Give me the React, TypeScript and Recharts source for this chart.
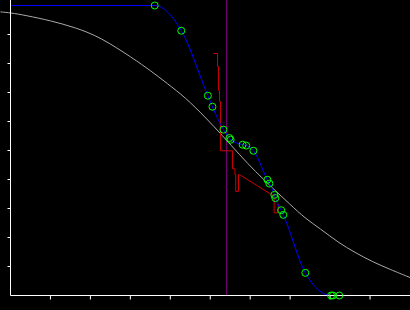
import { ComposedChart, Line, Scatter, XAxis, YAxis, ReferenceLine } from "recharts";

// measured points (green circles) and the smooth curve through them
const pointX = [3.61, 4.275, 4.94, 5.055, 5.33, 5.48, 5.51, 5.81, 5.9, 6.08, 6.43, 6.48, 6.605, 6.63, 6.775, 6.83, 7.38, 8.025, 8.07, 8.23];
const pointY = [1.0, 0.913, 0.689, 0.651, 0.572, 0.543, 0.537, 0.52, 0.517, 0.499, 0.399, 0.386, 0.347, 0.336, 0.294, 0.278, 0.078, 0, 0, 0];

// wide reference curve (grey)
const refX = [-0.25, 0, 0.375, 1.0, 1.625, 2.25, 3.075, 3.5, 3.925, 4.375, 4.875, 5.3, 5.75, 6.125, 6.55, 7.0, 7.375, 7.75, 8.2, 8.625, 9.05, 9.5, 10.0];
const refY = [0.978, 0.975, 0.966, 0.948, 0.924, 0.891, 0.817, 0.776, 0.731, 0.683, 0.615, 0.552, 0.483, 0.428, 0.372, 0.314, 0.266, 0.231, 0.183, 0.148, 0.117, 0.09, 0.062];

// step trace (red)
const stepX = [5.075, 5.1825, 5.1825, 5.2075, 5.2075, 5.2325, 5.2325, 5.2575, 5.2575, 5.5575, 5.5575, 5.6175, 5.6175, 5.6375, 5.6375, 5.7075, 5.7075, 5.7325, 6.5425, 6.6, 6.6, 6.7, 6.7];
const stepY = [0.8345, 0.8345, 0.79, 0.79, 0.707, 0.707, 0.669, 0.669, 0.499, 0.499, 0.437, 0.437, 0.417, 0.417, 0.359, 0.359, 0.417, 0.417, 0.347, 0.347, 0.285, 0.285, 0.316];

const cutX = 5.41;
const xTicks = [1, 2, 3, 4, 5, 6, 7, 8, 9];
const yTicks = [0.1, 0.2, 0.3, 0.4, 0.5, 0.6, 0.7, 0.8, 0.9];

const zip = (xs: number[], ys: number[]) => xs.map((x, i) => ({ x, y: ys[i] }));

const points = zip(pointX, pointY);
const fit = [{ x: 0, y: 1 }, ...points, { x: 10, y: 0 }];
const ref = zip(refX, refY);
const step = zip(stepX, stepY);

const Ring = (props: any) => (
  <circle cx={props.cx} cy={props.cy} r={3.5} fill="none" stroke="#00ff00" strokeWidth={1} />
);

// tick marks only, no labels
const NoLabel = () => <g />;

export default function App() {
  return (
    <div style={{ width: 410, height: 310, background: "#000" }}>
      <style>{"body{margin:0;background:#000}.no-clip,.no-clip *{clip-path:none !important}"}</style>
      <ComposedChart width={410} height={310} margin={{ top: 0, right: 0, left: 0.5, bottom: 0 }}>
        <XAxis
          dataKey="x"
          type="number"
          domain={[0, 10]}
          allowDataOverflow
          ticks={xTicks}
          interval={0}
          height={14.5}
          tick={NoLabel}
          tickSize={4}
          axisLine={{ stroke: "#fff" }}
          tickLine={{ stroke: "#fff" }}
        />
        <YAxis
          dataKey="y"
          type="number"
          domain={[0, 1.019]}
          allowDataOverflow
          ticks={yTicks}
          interval={0}
          width={10}
          tick={NoLabel}
          tickSize={3}
          axisLine={{ stroke: "#fff" }}
          tickLine={{ stroke: "#fff" }}
        />
        <ReferenceLine x={cutX} stroke="#800080" strokeWidth={1} ifOverflow="visible" />
        <Line className="no-clip" data={ref} dataKey="y" type="basis" stroke="#aaaaaa" strokeWidth={1} dot={false} isAnimationActive={false} />
        <Line className="no-clip" data={step} dataKey="y" type="linear" stroke="#cc0000" strokeWidth={1} dot={false} isAnimationActive={false} />
        <Line className="no-clip" data={fit} dataKey="y" type="monotone" stroke="#0000ff" strokeWidth={1} dot={false} isAnimationActive={false} />
        <Scatter className="no-clip" data={points} dataKey="y" shape={Ring} isAnimationActive={false} />
      </ComposedChart>
    </div>
  );
}
